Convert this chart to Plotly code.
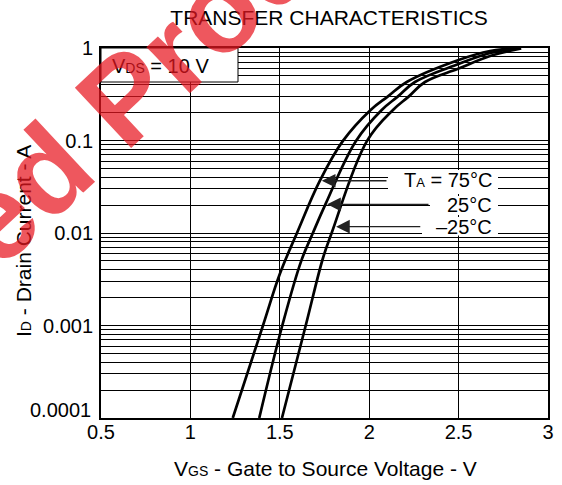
import numpy as np
import plotly.graph_objects as go

FONT = "Liberation Sans, Arial, Helvetica, sans-serif"

# ---- data ----
V_75 = [1.237, 1.406, 1.50, 1.596, 1.725, 1.853, 2.008, 2.105, 2.21, 2.50, 2.676, 2.80]
I_75 = [1e-4, 1e-3, 0.0036, 0.01, 0.037, 0.099, 0.214, 0.30, 0.429, 0.742, 0.928, 0.985]

V_25 = [1.385, 1.514, 1.62, 1.685, 1.755, 1.926, 2.07, 2.161, 2.256, 2.50, 2.676, 2.83]
I_25 = [1e-4, 1e-3, 0.005, 0.01, 0.0204, 0.099, 0.214, 0.30, 0.429, 0.671, 0.883, 0.99]

V_M25 = [1.512, 1.645, 1.742, 1.79, 1.988, 2.133, 2.222, 2.312, 2.50, 2.676, 2.85]
I_M25 = [1e-4, 1e-3, 0.0054, 0.01, 0.099, 0.214, 0.30, 0.429, 0.60, 0.82, 0.99]

LABELS = ["T<span style='font-size:13px'>A</span> = 75°C", "25°C", "–25°C"]
ARROW_TIP_V = [1.735, 1.765, 1.815]
ARROW_TIP_I = [0.0367, 0.0204, 0.0117]
ARROW_TAIL_V = [2.105, 2.340, 2.294]

X_TICKS = [0.5, 1, 1.5, 2, 2.5, 3]
X_TICK_TEXT = ["0.5", "1", "1.5", "2", "2.5", "3"]
Y_DECADES = [1e-4, 1e-3, 1e-2, 1e-1, 1]
Y_DECADE_TEXT = ["0.0001", "0.001", "0.01", "0.1", "1"]

TITLE = "TRANSFER CHARACTERISTICS"
X_TITLE = "V<span style='font-size:14px'>GS</span> - Gate to Source Voltage - V"
Y_TITLE = "I<span style='font-size:14px'>D</span> - Drain Current - A"
VDS_TEXT = "V<span style='font-size:14px'>DS</span> = 10 V"
WATERMARK = "Discontinued Product"

# y grid at 1..9 x each decade; the bottom label is drawn separately (sits above the axis)
y_vals, y_text = [], []
for d, t in zip(Y_DECADES[:-1], Y_DECADE_TEXT[:-1]):
    for m in range(1, 10):
        y_vals.append(m * d)
        y_text.append(t if (m == 1 and d != Y_DECADES[0]) else "")
y_vals.append(Y_DECADES[-1])
y_text.append(Y_DECADE_TEXT[-1])

fig = go.Figure()
for v, i in [(V_75, I_75), (V_25, I_25), (V_M25, I_M25)]:
    fig.add_trace(go.Scatter(x=v, y=i, mode="lines",
                             line=dict(color="black", width=2.7, shape="spline", smoothing=1.1),
                             showlegend=False, hoverinfo="skip"))

W, H = 562, 485
L, R, T, B = 101, 14, 48, 67
PW, PH = W - L - R, H - T - B

def fx(px):
    return (px - L) / PW

def fy(py):
    return (H - B - py) / PH

shapes = [
    # white box for V_DS label
    dict(type="rect", xref="paper", yref="paper", x0=0, x1=fx(238), y0=fy(82), y1=1,
         fillcolor="white", line=dict(color="black", width=1), layer="above"),
    # white boxes behind the temperature labels
    dict(type="rect", xref="paper", yref="paper", x0=fx(388), x1=fx(498), y0=fy(194), y1=fy(170),
         fillcolor="white", line=dict(width=0), layer="above"),
    dict(type="rect", xref="paper", yref="paper", x0=fx(430), x1=fx(498), y0=fy(215), y1=fy(196),
         fillcolor="white", line=dict(width=0), layer="above"),
    dict(type="rect", xref="paper", yref="paper", x0=fx(422), x1=fx(498), y0=fy(235.5), y1=fy(217),
         fillcolor="white", line=dict(width=0), layer="above"),
]

annotations = []
for tv, ti, av in zip(ARROW_TIP_V, ARROW_TIP_I, ARROW_TAIL_V):
    annotations.append(dict(x=tv, y=np.log10(ti), ax=av, ay=np.log10(ti), xref="x", yref="y",
                            axref="x", ayref="y", text="", showarrow=True, arrowhead=2,
                            arrowsize=2.1, arrowwidth=1.3, arrowcolor="#222"))
label_y = [180, 205, 227]
for lab, py in zip(LABELS, label_y):
    annotations.append(dict(x=fx(494), y=fy(py), xref="paper", yref="paper", text=lab,
                            showarrow=False, xanchor="right", yanchor="middle",
                            font=dict(family=FONT, size=20, color="black")))
annotations.append(dict(x=fx(110), y=fy(66), xref="paper", yref="paper", text=VDS_TEXT,
                        showarrow=False, xanchor="left", yanchor="middle",
                        font=dict(family=FONT, size=20, color="black")))
# bottom y tick label, raised above the axis as in the reference
annotations.append(dict(x=fx(93), y=fy(410), xref="paper", yref="paper", text=Y_DECADE_TEXT[0],
                        showarrow=False, xanchor="right", yanchor="middle",
                        font=dict(family=FONT, size=20, color="black")))
# axis titles
annotations.append(dict(x=fx(23), y=fy(241), xref="paper", yref="paper", text=Y_TITLE,
                        showarrow=False, xanchor="center", yanchor="middle", textangle=-90,
                        font=dict(family=FONT, size=21, color="black")))
annotations.append(dict(x=fx(325.5), y=fy(468), xref="paper", yref="paper", text=X_TITLE,
                        showarrow=False, xanchor="center", yanchor="middle",
                        font=dict(family=FONT, size=21, color="black")))
# red watermark
annotations.append(dict(x=fx(-28), y=fy(239), xref="paper", yref="paper", text=WATERMARK,
                        showarrow=False, xanchor="center", yanchor="middle", textangle=-43,
                        font=dict(family=FONT, size=120, color="rgba(232,22,32,0.72)", weight=700)))

fig.update_layout(
    width=W, height=H,
    margin=dict(l=L, r=R, t=T, b=B, pad=0, autoexpand=False),
    paper_bgcolor="white", plot_bgcolor="white",
    font=dict(family=FONT, color="black"),
    title=dict(text=TITLE, x=329 / W, xanchor="center", y=1 - 17.5 / H, yanchor="middle",
               font=dict(family=FONT, size=21, color="black")),
    shapes=shapes, annotations=annotations,
    xaxis=dict(range=[0.5, 3], tickvals=X_TICKS, ticktext=X_TICK_TEXT,
               showgrid=True, gridcolor="black", gridwidth=1, zeroline=False,
               showline=True, linecolor="black", linewidth=1.8, mirror=True, automargin=False,
               ticks="", ticklabelstandoff=-5, tickfont=dict(size=20, color="black")),
    yaxis=dict(type="log", range=[-4, 0], tickvals=y_vals, ticktext=y_text,
               showgrid=True, gridcolor="black", gridwidth=1, zeroline=False,
               showline=True, linecolor="black", linewidth=1.8, mirror=True, automargin=False,
               ticks="", ticklabelstandoff=2, tickfont=dict(size=20, color="black")),
)

fig.write_html("out.html", config={"displayModeBar": False},
               post_script="document.body.style.margin='0px';")
